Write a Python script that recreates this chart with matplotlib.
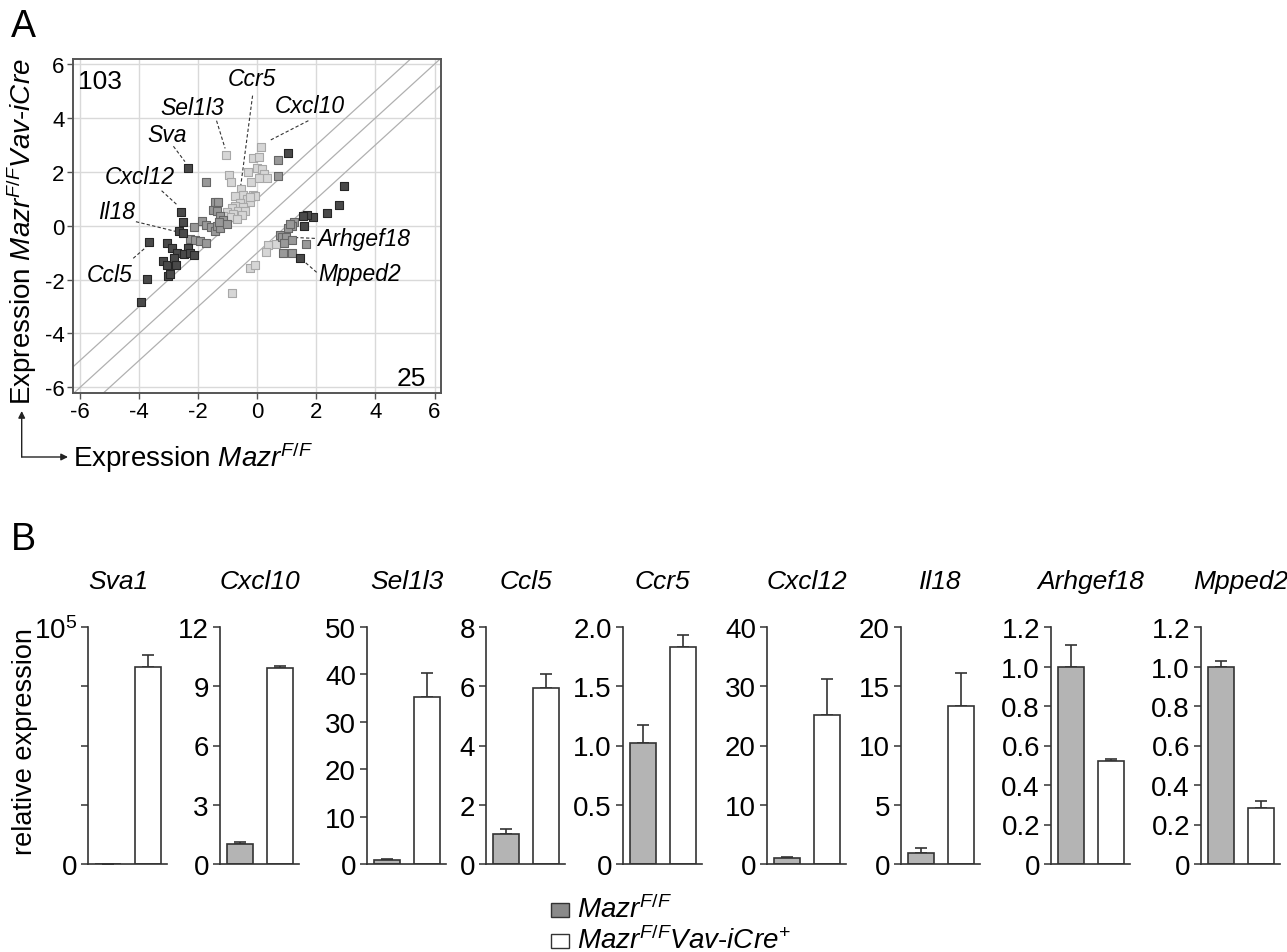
import matplotlib
matplotlib.use("Agg")
import matplotlib.pyplot as plt
from matplotlib.patches import Rectangle, FancyArrowPatch

plt.rcParams['font.family'] = ['Liberation Sans', 'DejaVu Sans']
plt.rcParams['mathtext.fontset'] = 'custom'
plt.rcParams['mathtext.rm'] = 'Liberation Sans'
plt.rcParams['mathtext.it'] = 'Liberation Sans:italic'
plt.rcParams['mathtext.bf'] = 'Liberation Sans:bold'
plt.rcParams['axes.unicode_minus'] = False

# --- A: scatter, log expression control vs. knockout ---
dark_x = [-2.36, -3.94, -3.72, -3.66, -3.06, -2.89, -2.72, -3.19, -3.07, -2.82, -2.75,
          -3.01, -2.95, -2.57, -2.51, -2.66, -2.51, -2.36, -2.47, -2.28, -2.13,
          2.93, 2.77, 2.35, 1.87, 1.69, 1.56, 1.44, 1.05, 1.57]
dark_y = [2.14, -2.85, -1.98, -0.59, -0.63, -0.84, -1.01, -1.31, -1.47, -1.21, -1.44,
          -1.86, -1.79, 0.50, 0.12, -0.20, -0.27, -0.82, -1.06, -1.01, -1.08,
          1.47, 0.78, 0.48, 0.33, 0.41, 0.35, -1.21, 2.70, -0.01]

mid_x = [-1.72, 0.69, 0.69, -2.14, -2.28, -2.11, -1.94, -1.75, -1.86, -1.72, -1.58,
         -1.43, -1.38, -1.26, -1.43, -1.32, -1.51, -1.38, -1.26, -1.15, -1.29, -1.04,
         1.25, 1.16, 1.05, 1.11, 0.77, 0.85, 0.97, 1.19, 1.65, 0.90, 0.86, 1.19]
mid_y = [1.63, 2.44, 1.86, -0.04, -0.50, -0.52, -0.56, -0.64, 0.19, 0.02, -0.06,
         -0.19, 0.00, -0.10, 0.87, 0.87, 0.58, 0.53, 0.37, 0.22, 0.15, 0.06,
         0.12, 0.00, -0.09, 0.05, -0.35, -0.43, -0.43, -0.54, -0.66, -0.64, -1.03, -1.03]

light_x = [-1.07, 0.12, -0.14, 0.06, -0.95, -0.89, -0.33, -0.21, -0.02, 0.17, 0.24,
           0.32, 0.07, -0.55, -0.14, -0.50, -0.76, -0.36, -0.24, -0.59, -0.76, -0.47,
           -0.87, -0.64, -0.42, -1.04, -0.81, -0.53, -0.93, -0.70, -1.15, -0.08, -0.25,
           0.63, 0.37, 0.29, -0.25, -0.08, -0.84]
light_y = [2.62, 2.91, 2.50, 2.55, 1.88, 1.61, 2.00, 1.63, 2.13, 2.10, 1.92,
           1.76, 1.77, 1.36, 1.15, 1.15, 1.11, 0.99, 0.89, 0.84, 0.74, 0.68,
           0.64, 0.56, 0.53, 0.50, 0.43, 0.41, 0.31, 0.25, 0.37, 1.11, 1.05,
           -0.68, -0.71, -0.97, -1.57, -1.46, -2.48]

diag_offsets = [-1, 0, 1]
n_up, n_down = "103", "25"

# gene labels: name, text position, leader line start, leader line end
gene_labels = [
    ("Ccr5", (-0.19, 5.45), (-0.16, 4.83), (-0.59, 1.24)),
    ("Sel1l3", (-2.22, 4.39), (-1.38, 3.90), (-1.09, 2.87)),
    ("Cxcl10", (1.78, 4.48), (1.73, 3.90), (0.41, 3.16)),
    ("Sva", (-3.07, 3.37), (-2.84, 2.95), (-2.45, 2.38)),
    ("Cxcl12", (-3.97, 1.82), (-3.24, 1.30), (-2.71, 0.77)),
    ("Il18", (-4.76, 0.53), (-4.11, 0.15), (-2.73, -0.22)),
    ("Ccl5", (-4.99, -1.82), (-4.20, -1.21), (-3.77, -0.80)),
    ("Arhgef18", (3.59, -0.47), (1.95, -0.47), (1.11, -0.43)),
    ("Mpped2", (3.48, -1.79), (2.01, -1.73), (1.39, -1.14)),
]

# --- B: qPCR bars ---
genes = ['Sva1', 'Cxcl10', 'Sel1l3', 'Ccl5', 'Ccr5', 'Cxcl12', 'Il18', 'Arhgef18', 'Mpped2']
ctrl_mean = [1, 1.0, 0.9, 1.0, 1.02, 0.95, 0.95, 1.0, 1.0]
ctrl_err = [0, 0.12, 0.1, 0.18, 0.15, 0.3, 0.38, 0.11, 0.03]
ko_mean = [83000, 9.9, 35.2, 5.94, 1.835, 25.2, 13.35, 0.52, 0.285]
ko_err = [5000, 0.13, 5.2, 0.47, 0.10, 6.0, 2.75, 0.01, 0.035]
y_max = [1e5, 12, 50, 8, 2.0, 40, 20, 1.2, 1.2]
y_step = [25000, 3, 10, 2, 0.5, 10, 5, 0.2, 0.2]
legend_labels = [r'$Mazr^{F/F}$', r'$Mazr^{F/F}Vav\text{-}iCre^{+}$']

W, H = 1287, 953
fig = plt.figure(figsize=(W / 100, H / 100), dpi=100)

# ---------- panel A ----------
ax = fig.add_axes([73 / W, 1 - 394 / H, 368 / W, 334 / H])
ax.set_xlim(-6.24, 6.22)
ax.set_ylim(-6.21, 6.19)
ax.set_xticks(range(-6, 7, 2))
ax.set_yticks(range(-6, 7, 2))
ax.grid(True, color='#d9d9d9', lw=1)
ax.set_axisbelow(True)
for off in diag_offsets:
    ax.axline((0, off), slope=1, color='#b0b0b0', lw=0.9, zorder=1)
ax.scatter(light_x, light_y, marker='s', s=30, c='#d6d6d6', edgecolors='#a8a8a8', linewidths=0.8, zorder=3)
ax.scatter(mid_x, mid_y, marker='s', s=30, c='#999999', edgecolors='#666666', linewidths=0.8, zorder=3)
ax.scatter(dark_x, dark_y, marker='s', s=30, c='#4a4a4a', edgecolors='#262626', linewidths=0.8, zorder=4)
for name, tpos, p0, p1 in gene_labels:
    ax.plot([p0[0], p1[0]], [p0[1], p1[1]], color='#333333', lw=0.8, ls=(0, (3, 2)), zorder=2)
    ax.text(tpos[0], tpos[1], name, style='italic', fontsize=16.5, ha='center', va='center')
ax.text(-6.08, 5.38, n_up, fontsize=19, ha='left', va='center')
ax.text(5.72, -5.64, n_down, fontsize=19, ha='right', va='center')
for s in ax.spines.values():
    s.set_color('#555555')
    s.set_linewidth(1.4)
ax.tick_params(direction='out', length=4, width=1, labelsize=16, pad=2, color='#555555')

fig.text(22 / W, 1 - 232 / H, r'Expression $Mazr^{F/F}Vav\text{-}iCre$', rotation=90,
         fontsize=20, ha='center', va='center')
fig.text(73 / W, 1 - 458 / H, r'Expression $Mazr^{F/F}$', fontsize=20, ha='left', va='center')
arrow = dict(arrowstyle='-|>', lw=1.0, color='#222222', mutation_scale=10, shrinkA=0, shrinkB=0)
fig.add_artist(FancyArrowPatch((21.7, H - 458), (21.7, H - 412), transform=None, **arrow))
fig.add_artist(FancyArrowPatch((21.7, H - 458), (68, H - 458), transform=None, **arrow))
fig.text(23 / W, 1 - 27 / H, 'A', fontsize=27, ha='center', va='center')
fig.text(23 / W, 1 - 540 / H, 'B', fontsize=27, ha='center', va='center')

# ---------- panel B ----------
lefts = [88, 220, 367, 486, 623, 767, 901, 1051, 1201]
gray = '#b4b4b4'
edge = '#333333'
for i, g in enumerate(genes):
    bx = fig.add_axes([lefts[i] / W, 1 - 865 / H, 79 / W, 237 / H])
    bx.bar([0, 1], [ctrl_mean[i], ko_mean[i]], width=0.667, color=[gray, 'white'],
           edgecolor=edge, linewidth=1.2, zorder=2)
    bx.errorbar([0, 1], [ctrl_mean[i], ko_mean[i]],
                yerr=[[0, 0], [ctrl_err[i], ko_err[i]]], fmt='none', ecolor=edge,
                elinewidth=1.2, capsize=4.5, capthick=1.2, zorder=1)
    bx.set_xlim(-0.513, 1.487)
    bx.set_ylim(0, y_max[i])
    n = int(round(y_max[i] / y_step[i]))
    ticks = [k * y_step[i] for k in range(n + 1)]
    bx.set_yticks(ticks)
    if g == 'Sva1':
        labels = ['0', '', '', '', r'$10^5$']
    elif y_step[i] < 1:
        labels = ['0'] + ['%.1f' % t for t in ticks[1:]]
    else:
        labels = ['%d' % t for t in ticks]
    bx.set_yticklabels(labels)
    bx.set_xticks([])
    for side in ['top', 'right']:
        bx.spines[side].set_visible(False)
    for side in ['left', 'bottom']:
        bx.spines[side].set_color(edge)
        bx.spines[side].set_linewidth(1.2)
    bx.tick_params(axis='y', direction='out', length=5, width=1.1, color=edge,
                   labelsize=20, pad=3)
    tx = 0.38 if g == 'Sva1' else 0.5
    bx.text(tx, 1.195, g, transform=bx.transAxes, style='italic', fontsize=19,
            ha='center', va='center')

fig.text(25 / W, 1 - 742 / H, 'relative expression', rotation=90, fontsize=19.5,
         ha='center', va='center')

# legend drawn by hand to keep the compact layout of the original
leg_fill = ['#8a8a8a', 'white']
leg_base = [918, 949]
for fc, base, lab in zip(leg_fill, leg_base, legend_labels):
    fig.add_artist(Rectangle((551, H - base), 18, 14, transform=None, facecolor=fc,
                             edgecolor='#333333', lw=1.0))
    fig.text(577 / W, 1 - base / H, lab, fontsize=20, ha='left', va='baseline')

fig.savefig('out.png', dpi=100)
